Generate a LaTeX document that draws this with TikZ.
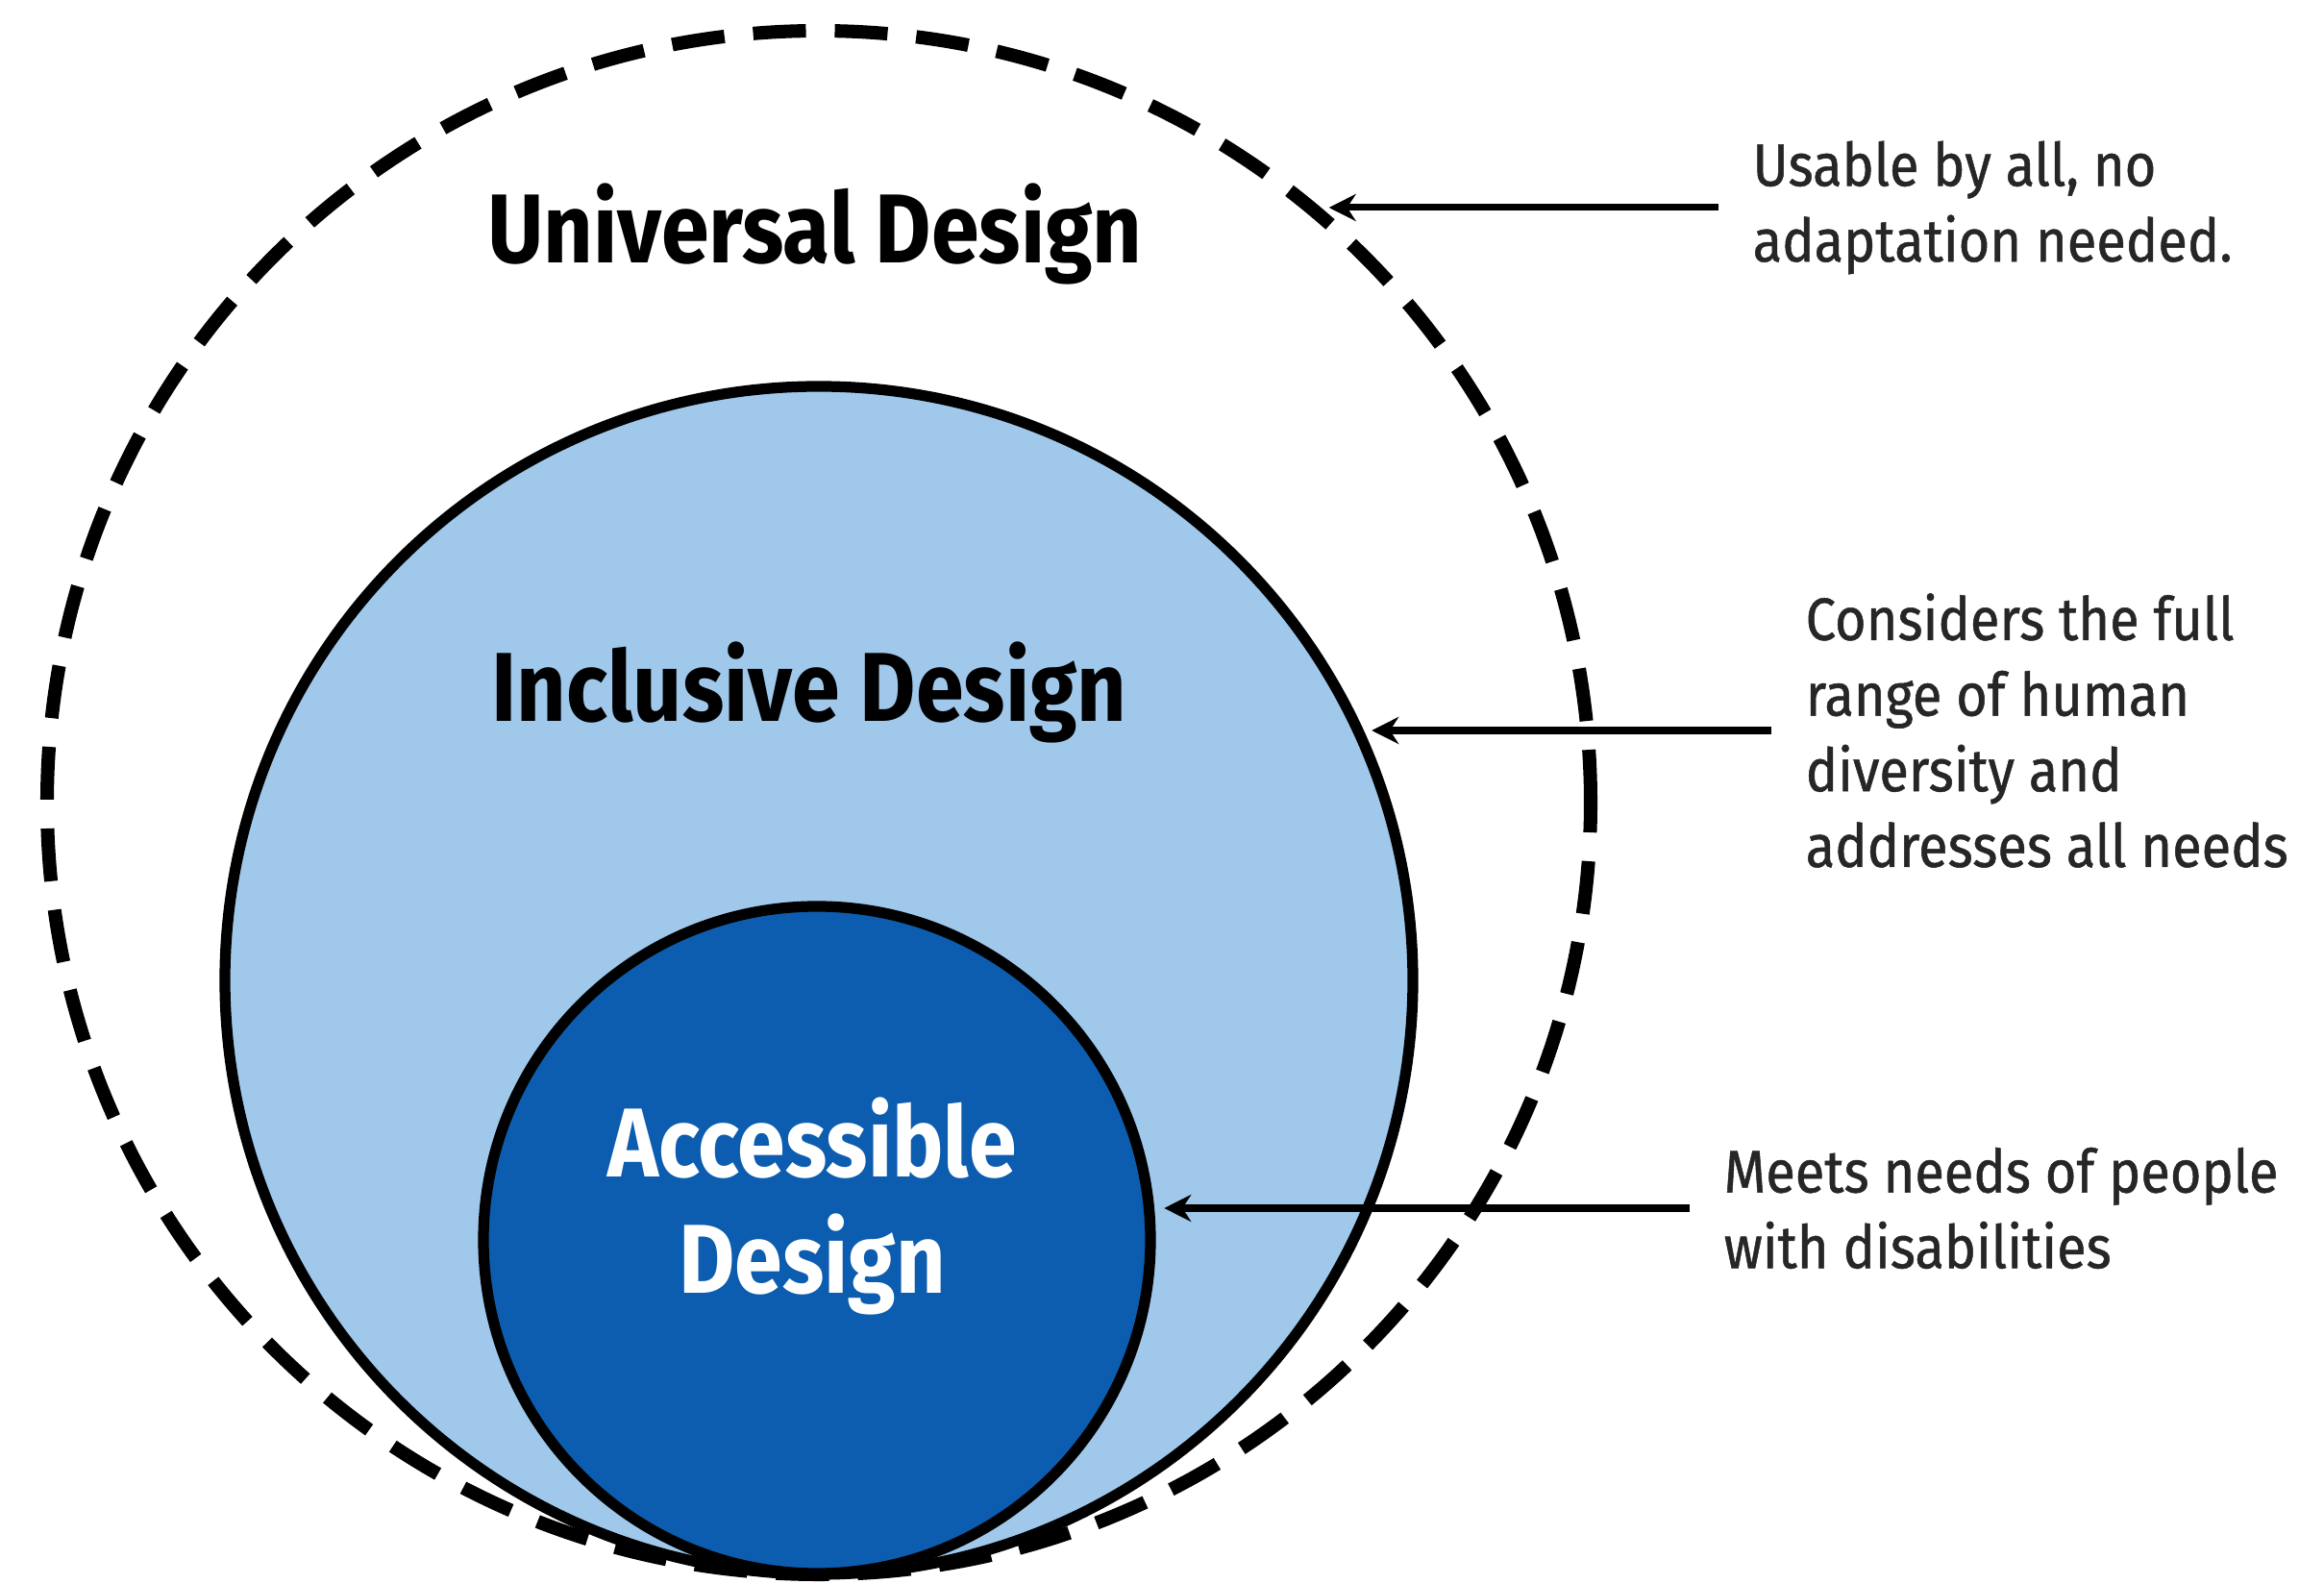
\documentclass[tikz,border=0pt]{standalone}
\usepackage{fontspec}
\usetikzlibrary{positioning,arrows.meta}
\newfontfamily\headfont{Fira Sans}[FakeStretch=0.88]
\newfontfamily\notefont{Fira Sans}[FakeStretch=0.9, FakeBold=0.8]
\definecolor{lightblue}{HTML}{9FC8EB}
\definecolor{darkblue}{HTML}{0C5DAF}
\definecolor{notegray}{HTML}{262626}
\tikzset{
  ring/.style={circle, draw, line width=3.2pt, inner sep=0pt},
  title/.style={font=\headfont\bfseries\fontsize{29}{34}\selectfont, anchor=base, align=center},
  note/.style={font=\notefont\fontsize{17.7}{22.4}\selectfont, text=notegray, align=left, anchor=west, inner sep=0pt},
  pointer/.style={-{Stealth[length=2.8mm,width=2.8mm]}, line width=2pt, shorten <=0.35cm, shorten >=0.1cm}
}
\begin{document}
\begin{tikzpicture}
  \useasboundingbox (0,0) rectangle (24.18,16.48);

  \node [circle, draw, line width=4pt, dash pattern=on 0.55cm off 0.3cm, minimum size=16.06cm, inner sep=0pt] (outer) at (8.52,8.13) {};
  \node [ring, fill=lightblue, minimum size=12.36cm] (incl) at (8.52,6.28) {};
  \node [ring, fill=darkblue, minimum size=6.94cm] (acc) at (8.50,3.58) {};

  \node [title] (U) at (8.48,13.74) {Universal Design};
  \node [title] (I) at (8.42,8.97) {Inclusive Design};
  \node [title, text=white, font=\headfont\bfseries\fontsize{29}{34.5}\selectfont] (A) at (8.45,3.02) {Accessible\\Design};

  \node [note] (noteU) at (18.23,14.32) {Usable by all, no\\adaptation needed.};
  \node [note] (noteI) at (18.78,8.88) {Considers the full\\range of human\\diversity and\\addresses all needs};
  \node [note] (noteA) at (17.93,3.91) {Meets needs of people\\with disabilities};

  \draw [pointer] (noteU.west) -- (noteU.west -| outer.50);
  \draw [pointer] (noteI.west) -- (noteI.west -| incl.25);
  \draw [pointer] (noteA.west) -- (noteA.west -| acc.5);
\end{tikzpicture}
\end{document}
